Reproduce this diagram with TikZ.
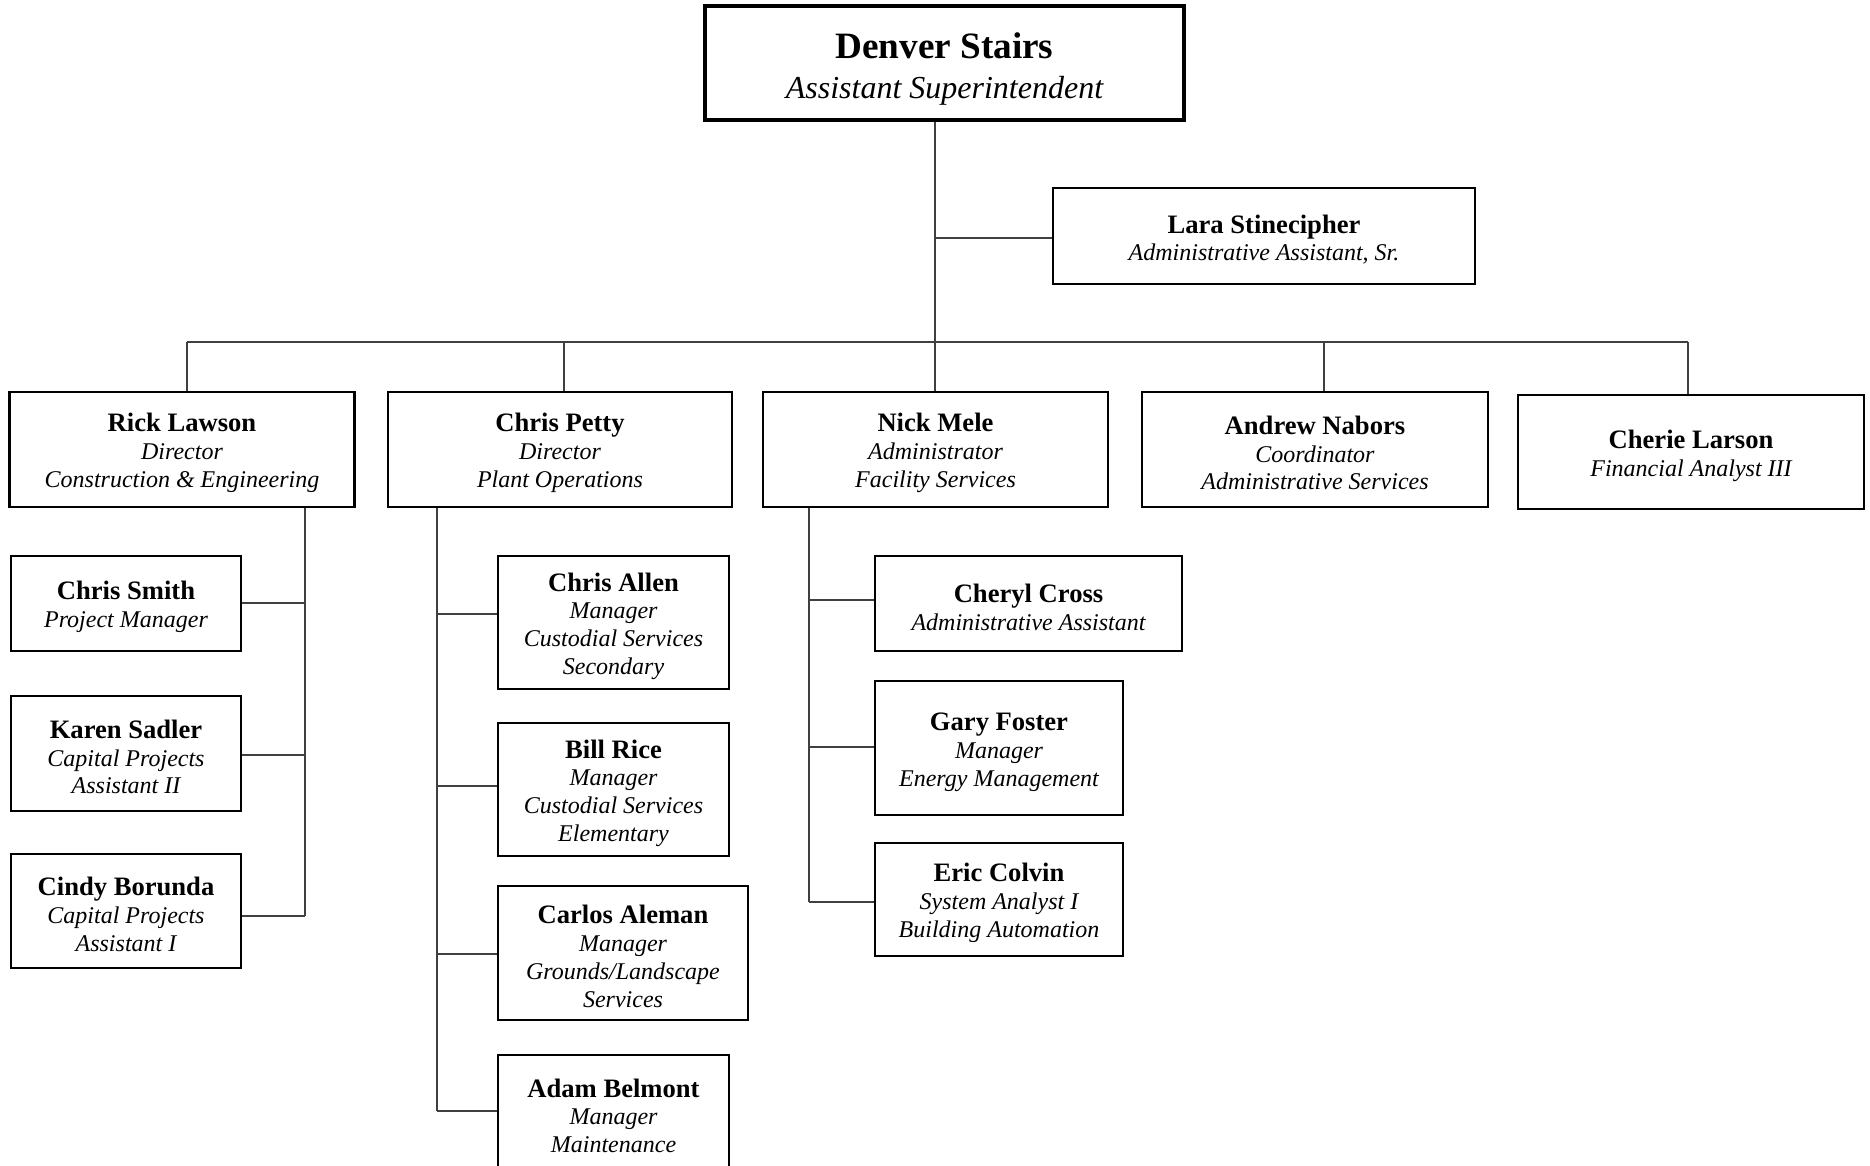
\documentclass[tikz,border=0pt]{standalone}
\usepackage{fontspec}
\setmainfont{Liberation Serif}

\tikzset{
	person/.style={draw, line width=1.2pt, align=center, inner sep=0pt,
		font=\fontsize{12}{13.9}\selectfont},
	wh/.style 2 args={minimum width=#1*0.5pt, minimum height=#2*0.5pt},
	link/.style={draw=black!75, line width=0.65pt}
}
\newcommand{\nm}[1]{{\fontsize{13.3}{13.9}\selectfont\bfseries\rule{0pt}{12.8pt}#1}}
\newcommand{\jb}[1]{{\itshape #1}}

\begin{document}
\begin{tikzpicture}[x=0.5pt,y=-0.5pt]
		\clip (0,0) rectangle (1870,1166);
		% top of the chart
		\node[person, line width=1.8pt, wh={479}{114}, font=\fontsize{16}{19.8}\selectfont] (stairs) at (944.5,63)
			{{\fontsize{18.6}{19.8}\selectfont\bfseries\rule{0pt}{19pt}Denver Stairs}\\
			 \itshape Assistant Superintendent};
		\node[person, wh={422}{96}] (lara) at (1264,236)
			{\nm{Lara Stinecipher}\\\jb{Administrative Assistant, Sr.}};
		% second row
		\node[person, wh={345}{115}] (rick) at (182,449.5)
			{\nm{Rick Lawson}\\\jb{Director}\\\jb{Construction \& Engineering}};
		\node[person, wh={344}{115}] (petty) at (560,449.5)
			{\nm{Chris Petty}\\\jb{Director}\\\jb{Plant Operations}};
		\node[person, wh={345}{115}] (mele) at (935.5,449.5)
			{\nm{Nick Mele}\\\jb{Administrator}\\\jb{Facility Services}};
		\node[person, wh={346}{115}] (nabors) at (1315,449.5)
			{\nm{Andrew Nabors}\\\jb{Coordinator}\\\jb{Administrative Services}};
		\node[person, wh={346}{114}] (larson) at (1691,452)
			{\nm{Cherie Larson}\\\jb{Financial Analyst III}};
		% under Rick Lawson
		\node[person, wh={230}{95}] (smith) at (126,603.5)
			{\nm{Chris Smith}\\\jb{Project Manager}};
		\node[person, wh={230}{115}] (sadler) at (126,753.5)
			{\nm{Karen Sadler}\\\jb{Capital Projects}\\\jb{Assistant II}};
		\node[person, wh={230}{114}] (borunda) at (126,911)
			{\nm{Cindy Borunda}\\\jb{Capital Projects}\\\jb{Assistant I}};
		% under Chris Petty
		\node[person, wh={231}{133}] (allen) at (613.5,622.5)
			{\nm{Chris Allen}\\\jb{Manager}\\\jb{Custodial Services}\\\jb{Secondary}};
		\node[person, wh={231}{133}] (rice) at (613.5,789.5)
			{\nm{Bill Rice}\\\jb{Manager}\\\jb{Custodial Services}\\\jb{Elementary}};
		\node[person, wh={250}{134}] (aleman) at (623,953)
			{\nm{Carlos Aleman}\\\jb{Manager}\\\jb{Grounds/Landscape}\\\jb{Services}};
		\node[person, wh={231}{114}, anchor=north] (belmont) at (613.5,1054)
			{\nm{Adam Belmont}\\\jb{Manager}\\\jb{Maintenance}};
		% under Nick Mele
		\node[person, wh={307}{95}] (cross) at (1028.5,603.5)
			{\nm{Cheryl Cross}\\\jb{Administrative Assistant}};
		\node[person, wh={248}{134}] (foster) at (999,748)
			{\nm{Gary Foster}\\\jb{Manager}\\\jb{Energy Management}};
		\node[person, wh={248}{113}] (colvin) at (999,899.5)
			{\nm{Eric Colvin}\\\jb{System Analyst I}\\\jb{Building Automation}};
		% connectors
		\coordinate (hub) at (935,342);
		\draw[link] (stairs.south -| hub) -- (hub);
		\draw[link] (hub |- 0,238) -- (lara.west |- 0,238);
		\draw[link] (187,342) -- (1688,342);
		\foreach \n/\x in {rick/187,petty/564,mele/935,nabors/1324,larson/1688}
			\draw[link] (\n.north -| \x,0) -- (\x,342);
		\coordinate (rl) at (305,508);
		\coordinate (pl) at (437,508);
		\coordinate (ml) at (809,508);
		\draw[link] (rl) -- (rl |- 0,916);
		\foreach \n/\y in {smith/603,sadler/755,borunda/916}
			\draw[link] (\n.east |- 0,\y) -- (rl |- 0,\y);
		\draw[link] (pl) -- (pl |- 0,1111);
		\foreach \n/\y in {allen/614,rice/786,aleman/954,belmont/1111}
			\draw[link] (\n.west |- 0,\y) -- (pl |- 0,\y);
		\draw[link] (ml) -- (ml |- 0,902);
		\foreach \n/\y in {cross/600,foster/747,colvin/902}
			\draw[link] (\n.west |- 0,\y) -- (ml |- 0,\y);
	\end{tikzpicture}
\end{document}
